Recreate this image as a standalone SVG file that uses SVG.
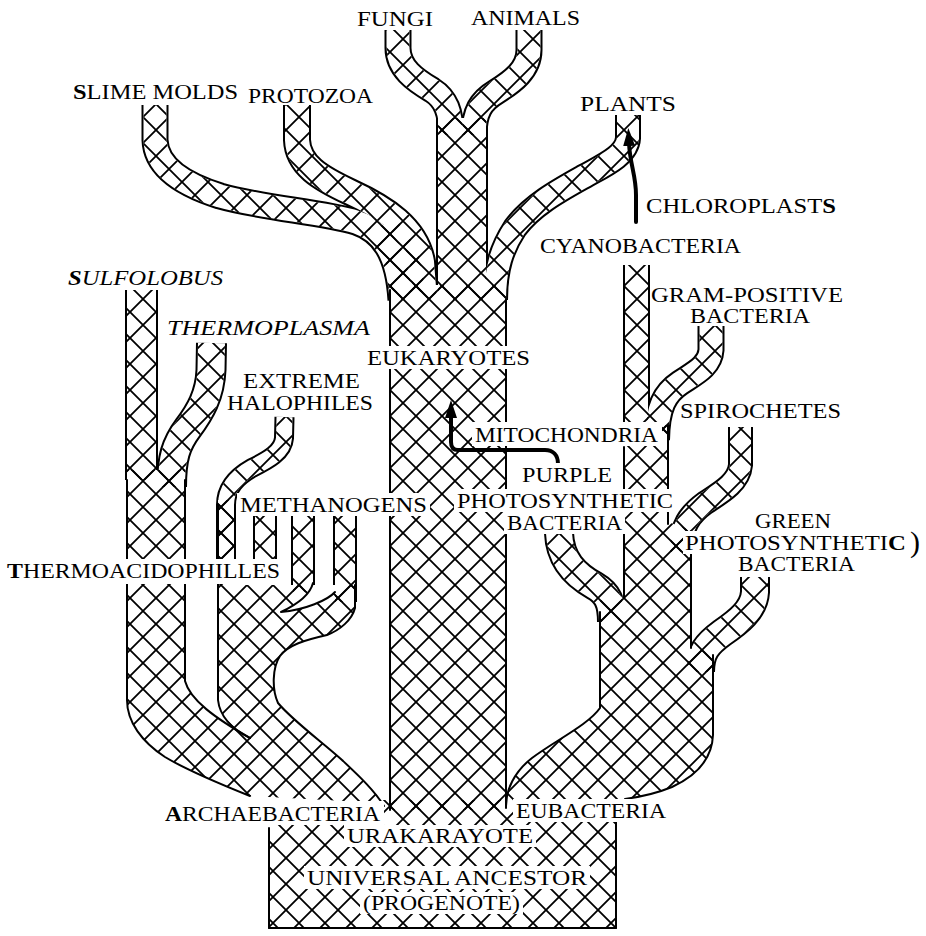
<svg xmlns="http://www.w3.org/2000/svg" width="926" height="936" viewBox="0 0 926 936">
<style>
.o{fill:none;stroke:#000}
.w{fill:none;stroke:#fff}
.h{fill:none;stroke:url(#hatch)}
.pw{fill:#fff;stroke:none}
.ph{fill:url(#hatch);stroke:none}
.e{fill:none;stroke:#000;stroke-width:2;stroke-linejoin:round;stroke-linecap:round}
.bg{fill:#fff}
.arr{fill:none;stroke:#000;stroke-width:4;stroke-linecap:round;stroke-linejoin:round}
text{font-family:"Liberation Serif","Times New Roman",serif;font-size:22px;fill:#000}
.it{font-style:italic}
.b{font-weight:bold}
</style>
<defs>
<pattern id="hatch" width="26" height="26" patternUnits="userSpaceOnUse">
<path d="M-6,-6 L32,32 M32,-6 L-6,32" stroke="#000" stroke-width="1.8" fill="none"/>
</pattern>
<marker id="ah" viewBox="0 0 18 12" refX="3" refY="6" markerWidth="18" markerHeight="12" markerUnits="userSpaceOnUse" orient="auto">
<path d="M0,0 L18,6 L0,12 Z" fill="#000"/>
</marker>
<path id="t-fungi" d="M398,30 L398,48 C398,68 415,80 432,90 C446,99 451,112 451,135"/>
<path id="t-animals" d="M529,30 L529,50 C529,70 512,82 496,92 C481,101 474,112 474,135"/>
<path id="t-stem" d="M462,118 L462,300"/>
<path id="t-slime" d="M155,105 L155,140 C156,168 185,185 220,196 C262,208 322,212 356,222 C382,231 398,252 401,300"/>
<path id="t-proto" d="M297,105 L297,140 C298,165 320,178 350,192 C385,208 416,228 422,262 L425,300"/>
<path id="t-plants" d="M628,115 L628,138 C627,155 605,165 585,176 C560,190 532,205 515,228 C502,248 495,268 495,300"/>
<path id="t-cyano" d="M636.5,265 L636.5,440"/>
<path id="t-gram" d="M711,326 L711,350 C710,366 695,373 680,383 C665,393 657,407 656.5,440"/>
<path id="t-spiro" d="M740.5,427 L740.5,465 C739,482 722,492 705,503 C690,514 680.5,526 680.5,552"/>
<path id="t-purple" d="M559,533 C560,560 575,575 595,586 C607,593 612,602 612,622"/>
<path id="t-green" d="M755,577 L755,592 C754,610 738,622 722,633 C707,644 700,652 700,672"/>
<path id="t-sulf" d="M141.5,290 L141.5,480"/>
<path id="t-thermo" d="M211.5,343 L211,370 C210,395 200,412 188,428 C176,444 171.5,458 171.5,487"/>
<path id="t-halo" d="M284.5,417 L284,438 C283,452 268,460 252,468 C236,477 226,488 226,505 L226,562"/>
<path id="t-m2" d="M265,516 L265,562"/>
<path id="t-m3" d="M303,516 L303,592"/>
<path id="t-m4" d="M345,516 L345,602"/>
<path id="p-junc" d="M368,229 L398,221 L418,252 L426,292 L390,292 L388,268 Z"/>
<path id="p-trunk" d="M390,285 L506,285 L506,810 L390,810 Z"/>
<path id="p-left" d="M127,470 L185,470 L185,681 C190,700 215,718 250,738 L250,796 C225,786 190,772 165,757 C142,742 127,722 127,700 Z"/>
<path id="p-mid" d="M218,500 L234,500 L234,585 L355,585 L355,608 C352,620 340,630 327,635 C305,640 288,645 280,656 C272,668 272,690 278,703 C292,720 322,742 342,760 C360,777 374,790 383,803 L250,796 L250,738 C234,730 220,718 218,700 Z"/>
<path id="p-box" d="M269,824 L382,824 L382,800 L616,800 L616,928 L269,928 Z"/>
<path id="p-eub" d="M624,425 L668,425 L668,522 L691,530 L691,648 L713,652 L713,735 C712,760 696,776 672,787 C652,795 632,799 612,801 L506,806 C506,790 514,772 532,758 C556,740 588,725 600,708 L600,600 L624,596 Z"/>
</defs>

<g id="branches">
<g id="outlines">
<use href="#t-fungi" class="o" stroke-width="27"/>
<use href="#t-animals" class="o" stroke-width="27"/>
<use href="#t-stem" class="o" stroke-width="52"/>
<use href="#t-slime" class="o" stroke-width="27"/>
<use href="#t-proto" class="o" stroke-width="28"/>
<use href="#t-plants" class="o" stroke-width="26"/>
<use href="#t-cyano" class="o" stroke-width="27"/>
<use href="#t-gram" class="o" stroke-width="27"/>
<use href="#t-spiro" class="o" stroke-width="25"/>
<use href="#t-purple" class="o" stroke-width="30"/>
<use href="#t-green" class="o" stroke-width="30"/>
<use href="#t-sulf" class="o" stroke-width="33"/>
<use href="#t-thermo" class="o" stroke-width="31"/>
<use href="#t-halo" class="o" stroke-width="20"/>
<use href="#t-m2" class="o" stroke-width="24"/>
<use href="#t-m3" class="o" stroke-width="24"/>
<use href="#t-m4" class="o" stroke-width="24"/>
</g>
<g id="whites">
<use href="#t-fungi" class="w" stroke-width="23"/>
<use href="#t-animals" class="w" stroke-width="23"/>
<use href="#t-stem" class="w" stroke-width="48"/>
<use href="#t-slime" class="w" stroke-width="23"/>
<use href="#t-proto" class="w" stroke-width="24"/>
<use href="#t-plants" class="w" stroke-width="22"/>
<use href="#t-cyano" class="w" stroke-width="23"/>
<use href="#t-gram" class="w" stroke-width="23"/>
<use href="#t-spiro" class="w" stroke-width="21"/>
<use href="#t-purple" class="w" stroke-width="26"/>
<use href="#t-green" class="w" stroke-width="26"/>
<use href="#t-sulf" class="w" stroke-width="29"/>
<use href="#t-thermo" class="w" stroke-width="27"/>
<use href="#t-halo" class="w" stroke-width="16"/>
<use href="#t-m2" class="w" stroke-width="20"/>
<use href="#t-m3" class="w" stroke-width="20"/>
<use href="#t-m4" class="w" stroke-width="20"/>
<use href="#p-junc" class="pw"/>
<use href="#p-trunk" class="pw"/>
<use href="#p-left" class="pw"/>
<use href="#p-mid" class="pw"/>
<use href="#p-box" class="pw"/>
<use href="#p-eub" class="pw"/>
</g>
<g id="hatches">
<use href="#t-fungi" class="h" stroke-width="23"/>
<use href="#t-animals" class="h" stroke-width="23"/>
<use href="#t-stem" class="h" stroke-width="48"/>
<use href="#t-slime" class="h" stroke-width="23"/>
<use href="#t-proto" class="h" stroke-width="24"/>
<use href="#t-plants" class="h" stroke-width="22"/>
<use href="#t-cyano" class="h" stroke-width="23"/>
<use href="#t-gram" class="h" stroke-width="23"/>
<use href="#t-spiro" class="h" stroke-width="21"/>
<use href="#t-purple" class="h" stroke-width="26"/>
<use href="#t-green" class="h" stroke-width="26"/>
<use href="#t-sulf" class="h" stroke-width="29"/>
<use href="#t-thermo" class="h" stroke-width="27"/>
<use href="#t-halo" class="h" stroke-width="16"/>
<use href="#t-m2" class="h" stroke-width="20"/>
<use href="#t-m3" class="h" stroke-width="20"/>
<use href="#t-m4" class="h" stroke-width="20"/>
<use href="#p-junc" class="ph"/>
<use href="#p-trunk" class="ph"/>
<use href="#p-left" class="ph"/>
<use href="#p-mid" class="ph"/>
<use href="#p-box" class="ph"/>
<use href="#p-eub" class="ph"/>
<path class="pw" d="M313,585 L335,585 L335,592 C328,600 305,610 281,612 C298,604 310,595 313,583 Z"/>
</g>
<g id="edges">
<path class="e" d="M390,290 L390,810"/>
<path class="e" d="M506,300 L506,808"/>
<path class="e" d="M127,480 L127,700 C127,722 142,742 165,757 C190,772 225,786 250,796"/>
<path class="e" d="M185,480 L185,681 C190,700 215,718 250,738"/>
<path class="e" d="M218,505 L218,700 C220,718 234,730 250,738"/>
<path class="e" d="M355,585 L355,608 C352,620 340,630 327,635 C305,640 288,645 280,656 C272,668 272,690 278,703 C292,720 322,742 342,760 C360,777 374,790 384,806"/>
<path class="e" d="M313,583 C310,595 298,604 281,612 M335,592 C328,600 305,610 281,612"/>
<path class="e" d="M269,828 L269,928 L616,928 L616,822"/>
<path class="e" d="M269,928 L616,928" stroke-width="3"/>
<path class="e" d="M624,447 L624,598"/>
<path class="e" d="M668,425 L668,524"/>
<path class="e" d="M691,532 L691,648"/>
<path class="e" d="M713,655 L713,735 C712,760 696,776 672,787 C655,794 640,797 625,799"/>
<path class="e" d="M600,612 L600,708 C588,725 556,740 532,758 C514,772 506,790 506,806"/>
</g>
</g>

<g id="connectors">
<path id="chloroplasts-arrow" class="arr" d="M636,222 L636,195 C636,175 630,165 629,143" marker-end="url(#ah)"/>
<path id="mitochondria-arrow" class="arr" d="M558,464 C558,455 553,450 545,450 L458,450 C453,450 451,447 451,442 L451,415" marker-end="url(#ah)"/>
</g>

<g id="labels">
<g id="fungi"><rect class="bg" x="355" y="7" width="80" height="23"/><text x="357" y="26" textLength="76" lengthAdjust="spacingAndGlyphs">FUNGI</text></g>
<g id="animals"><rect class="bg" x="469" y="6" width="113" height="23"/><text x="471" y="25" textLength="109" lengthAdjust="spacingAndGlyphs">ANIMALS</text></g>
<g id="slime-molds"><text x="73" y="99" textLength="165" lengthAdjust="spacingAndGlyphs"><tspan class="b">S</tspan>LIME MOLDS</text></g>
<g id="protozoa"><text x="248" y="103" textLength="125" lengthAdjust="spacingAndGlyphs">PROTOZOA</text></g>
<g id="plants"><text x="580" y="111" textLength="96" lengthAdjust="spacingAndGlyphs">PLANTS</text></g>
<g id="chloroplasts"><text x="646" y="213" textLength="190" lengthAdjust="spacingAndGlyphs">CHLOROPLAST<tspan class="b">S</tspan></text></g>
<g id="cyanobacteria"><text x="540" y="253" textLength="201" lengthAdjust="spacingAndGlyphs">CYANOBACTERIA</text></g>
<g id="sulfolobus"><text class="it" x="68" y="285" textLength="155" lengthAdjust="spacingAndGlyphs"><tspan class="b">S</tspan>ULFOLOBUS</text></g>
<g id="gram-positive"><text x="651" y="302" textLength="192" lengthAdjust="spacingAndGlyphs">GRAM-POSITIVE</text><text x="690" y="323" textLength="120" lengthAdjust="spacingAndGlyphs">BACTERIA</text></g>
<g id="thermoplasma"><text class="it" x="167" y="335" textLength="203" lengthAdjust="spacingAndGlyphs">THERMOPLASMA</text></g>
<g id="eukaryotes"><rect class="bg" x="364" y="346" width="169" height="23"/><text x="367" y="365" textLength="163" lengthAdjust="spacingAndGlyphs">EUKARYOTES</text></g>
<g id="extreme-halophiles"><text x="243" y="388" textLength="117" lengthAdjust="spacingAndGlyphs">EXTREME</text><text x="227" y="410" textLength="146" lengthAdjust="spacingAndGlyphs">HALOPHILES</text></g>
<g id="spirochetes"><text x="680" y="418" textLength="161" lengthAdjust="spacingAndGlyphs">SPIROCHETES</text></g>
<g id="mitochondria"><rect class="bg" x="472" y="422" width="190" height="24"/><text x="475" y="442" textLength="183" lengthAdjust="spacingAndGlyphs">MITOCHONDRIA</text></g>
<g id="purple-photosynthetic-bacteria">
<rect class="bg" x="519" y="463" width="96" height="23"/><text x="522" y="482" textLength="90" lengthAdjust="spacingAndGlyphs">PURPLE</text>
<rect class="bg" x="454" y="489" width="222" height="23"/><text x="457" y="508" textLength="216" lengthAdjust="spacingAndGlyphs">PHOTOSYNTHETIC</text>
<rect class="bg" x="504" y="511" width="121" height="23"/><text x="507" y="530" textLength="115" lengthAdjust="spacingAndGlyphs">BACTERIA</text>
</g>
<g id="methanogens"><rect class="bg" x="237" y="493" width="193" height="23"/><text x="240" y="512" textLength="187" lengthAdjust="spacingAndGlyphs">METHANOGENS</text></g>
<g id="green-photosynthetic-bacteria">
<rect class="bg" x="752" y="509" width="82" height="23"/><text x="755" y="528" textLength="76" lengthAdjust="spacingAndGlyphs">GREEN</text>
<rect class="bg" x="683" y="531" width="226" height="23"/><text x="685" y="550" textLength="221" lengthAdjust="spacingAndGlyphs">PHOTOSYNTHETI<tspan class="b">C</tspan></text>
<rect class="bg" x="735" y="552" width="123" height="23"/><text x="738" y="571" textLength="117" lengthAdjust="spacingAndGlyphs">BACTERIA</text>
<text x="910" y="552" style="font-size:30px">)</text>
</g>
<g id="thermoacidophilles"><rect class="bg" x="4" y="559" width="279" height="25"/><text x="7" y="578" textLength="273" lengthAdjust="spacingAndGlyphs"><tspan class="b">T</tspan>HERMOACIDOPHILLES</text></g>
<g id="archaebacteria"><rect class="bg" x="162" y="801" width="222" height="24"/><text x="165" y="821" textLength="215" lengthAdjust="spacingAndGlyphs"><tspan class="b">A</tspan>RCHAEBACTERIA</text></g>
<g id="eubacteria"><rect class="bg" x="513" y="799" width="156" height="23"/><text x="516" y="818" textLength="150" lengthAdjust="spacingAndGlyphs">EUBACTERIA</text></g>
<g id="urakarayote"><rect class="bg" x="344" y="825" width="192" height="22"/><text x="347" y="843" textLength="186" lengthAdjust="spacingAndGlyphs">URAKARAYOTE</text></g>
<g id="universal-ancestor">
<rect class="bg" x="304" y="866" width="286" height="23"/><text x="307" y="885" textLength="280" lengthAdjust="spacingAndGlyphs">UNIVERSAL ANCESTOR</text>
<rect class="bg" x="360" y="892" width="163" height="22"/><text x="363" y="910" textLength="157" lengthAdjust="spacingAndGlyphs">(PROGENOTE)</text>
</g>
</g>
</svg>
